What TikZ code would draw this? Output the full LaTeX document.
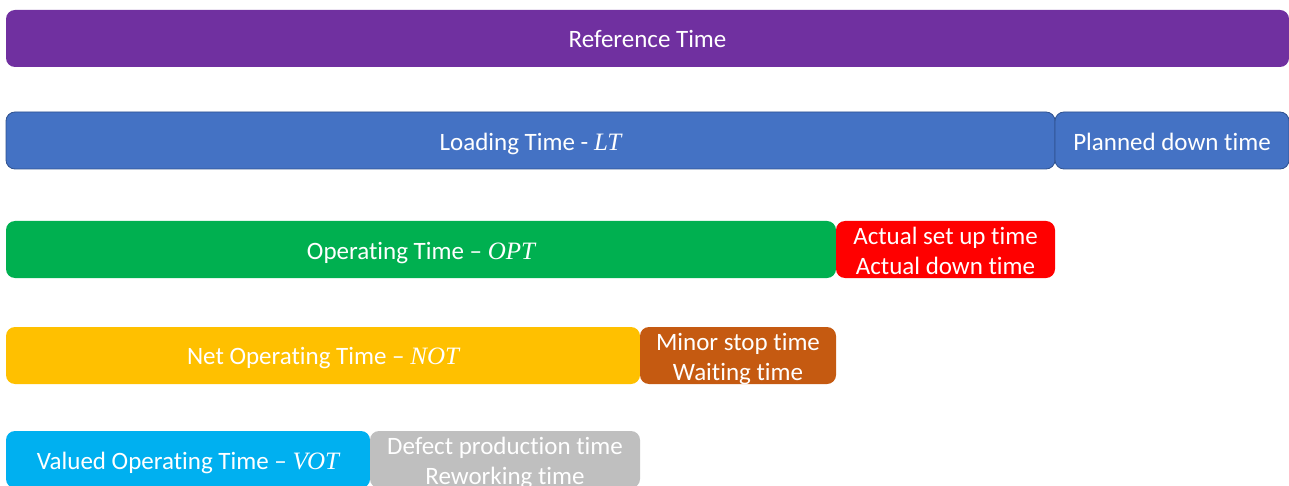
\documentclass[tikz,border=0pt]{standalone}
\usepackage{fontspec}
\setmainfont{Carlito}[RawFeature={-liga;-clig;-calt;-dlig}]
\newfontfamily\varfont{Liberation Serif}
\newcommand{\vr}[1]{{\varfont\itshape #1}}
\definecolor{cpurple}{HTML}{7030A0}
\definecolor{cblue}{HTML}{4472C4}
\definecolor{cblueedge}{HTML}{2F528F}
\definecolor{cgreen}{HTML}{00B050}
\definecolor{cred}{HTML}{FF0000}
\definecolor{cyellow}{HTML}{FFC000}
\definecolor{cbrown}{HTML}{C55A11}
\definecolor{ccyan}{HTML}{00B0F0}
\definecolor{cgray}{HTML}{BFBFBF}
\begin{document}
\begin{tikzpicture}[x=1pt,y=-1pt,
  bar/.style={rectangle, rounded corners=9pt, inner sep=0pt, minimum height=57pt},
  lbl/.style={text=white, inner sep=0pt, align=center, font=\fontsize{25}{30}\selectfont},
  edged/.style={draw=cblueedge, line width=0.8pt}]
\useasboundingbox (0,0) rectangle (1289,486);
\clip (0,0) rectangle (1289,486);
\node[bar, fill=cpurple, minimum width=1283pt] (ref) at (647.5,38.5) {};
\node[bar, fill=cblue, edged, minimum width=1049pt] (lt) at (530.5,140.5) {};
\node[bar, fill=cblue, edged, minimum width=234pt] (pdt) at (1172,140.5) {};
\node[bar, fill=cgreen, minimum width=830pt] (opt) at (421,249.5) {};
\node[bar, fill=cred, minimum width=219pt] (adt) at (945.5,249.5) {};
\node[bar, fill=cyellow, minimum width=634pt] (not) at (323,355.5) {};
\node[bar, fill=cbrown, minimum width=196pt] (mst) at (738,355.5) {};
\node[bar, fill=ccyan, minimum width=364pt] (vot) at (188,459.5) {};
\node[bar, fill=cgray, minimum width=270pt] (dpt) at (505,459.5) {};
\node[lbl] (reft) at (ref.center) {Reference Time};
\node[lbl] (ltt) at ([yshift=-3pt]lt.center) {Loading Time - \vr{LT}};
\node[lbl] (pdtt) at ([yshift=-1pt]pdt.center) {Planned down time};
\node[lbl] (optt) at ([yshift=-3.5pt]opt.center) {Operating Time -- \vr{OPT}};
\node[lbl] (adtt) at ([yshift=-1.5pt]adt.center) {Actual set up time\\Actual down time};
\node[lbl] (nott) at ([yshift=-3pt]not.center) {Net Operating Time -- \vr{NOT}};
\node[lbl] (mstt) at ([yshift=-3.5pt]mst.center) {Minor stop time\\Waiting time};
\node[lbl] (vott) at ([yshift=-3pt]vot.center) {Valued Operating Time -- \vr{VOT}};
\node[lbl] (dptt) at ([yshift=-3pt]dpt.center) {Defect production time\\Reworking time};
\end{tikzpicture}
\end{document}
